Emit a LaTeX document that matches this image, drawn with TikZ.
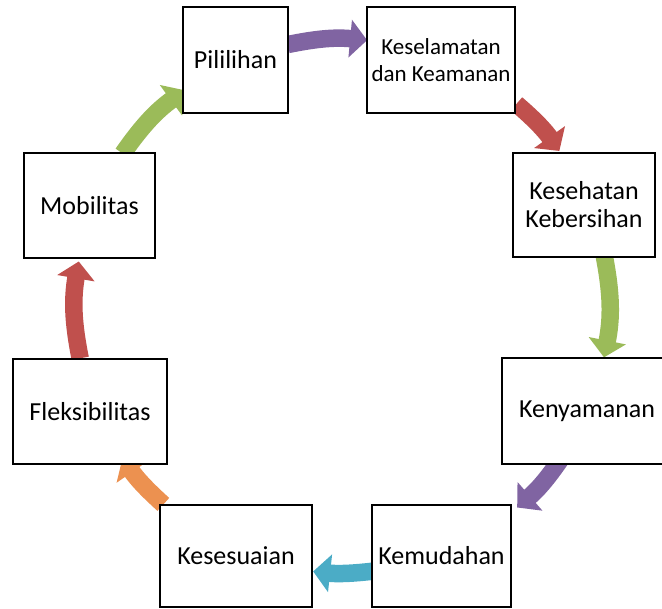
\documentclass[tikz,border=0pt]{standalone}
\usepackage{fontspec}
\setmainfont{Carlito}
\usetikzlibrary{arrows.meta,calc}

\definecolor{cpurple}{HTML}{8064A2}
\definecolor{cred}{HTML}{C0504D}
\definecolor{cgreen}{HTML}{9BBB59}
\definecolor{cteal}{HTML}{4BACC6}
\definecolor{corange}{HTML}{EC9150}

\tikzset{
  stagebox/.style={draw=black, line width=2.8pt, fill=white, inner sep=0pt,
    align=center, font=\fontsize{26}{28}\selectfont, line join=miter},
  smallbox/.style={stagebox, font=\fontsize{23}{27}\selectfont},
  cyclearrow/.style={line width=17.5pt, draw=#1,
    -{Triangle[width=37pt,length=17pt,fill=#1]}},
}

\begin{document}
\begin{tikzpicture}[x=1pt,y=1pt]
\useasboundingbox (0,0) rectangle (662,609);
\clip (0,0) rectangle (662,609);

% centre and radius of the ring the arrows follow
\coordinate (C) at (342,303);
\def\R{267}

% arrow end points on the ring
\foreach \n/\a in {s1/101.7, e1/84.6, s2/49.2, e2/35.5, s3/10.7, e3/-11.1,
                   s4/-33.6, e4/-49, s5/-83.6, e5/-96.2, s6/-132, e6/-145.3,
                   s7/-168.7, e7/-189.6, s8/145.2, e8/126.1}
  \coordinate (\n) at ($(C)+(\a:\R)$);

% arrows (clockwise), drawn below the boxes
\draw[cyclearrow=cpurple] (s1) to[bend left=8.5] (e1);
\draw[cyclearrow=cred]    (s2) to[bend left=7]   (e2);
\draw[cyclearrow=cgreen]  (s3) to[bend left=11]  (e3);
\draw[cyclearrow=cpurple] (s4) to[bend left=7.7] (e4);
\draw[cyclearrow=cteal]   (s5) to[bend left=6.3] (e5);
\draw[cyclearrow=corange] (s6) to[bend left=6.6] (e6);
\draw[cyclearrow=cred]    (s7) to[bend left=10.5](e7);
\draw[cyclearrow=cgreen]  (s8) to[bend left=9.5] (e8);

% stages
\node[stagebox, minimum width=105pt, minimum height=106pt] (pil) at (235.5,549) {Pililihan};
\node[smallbox, minimum width=148pt, minimum height=106pt] (kes) at (441,549) {Keselamatan\\dan Keamanan};
\node[stagebox, minimum width=142pt, minimum height=104pt] (keh) at (584,404) {Kesehatan\\Kebersihan};
\node[stagebox, minimum width=170pt, minimum height=106pt] (ken) at (587,198) {Kenyamanan};
\node[stagebox, minimum width=139pt, minimum height=102pt] (kem) at (441.5,53) {Kemudahan};
\node[stagebox, minimum width=152pt, minimum height=102pt] (kss) at (236,53) {Kesesuaian};
\node[stagebox, minimum width=154pt, minimum height=105pt] (fle) at (90,197.5) {Fleksibilitas};
\node[stagebox, minimum width=131pt, minimum height=105pt] (mob) at (89.5,403.5) {Mobilitas};
\end{tikzpicture}
\end{document}
